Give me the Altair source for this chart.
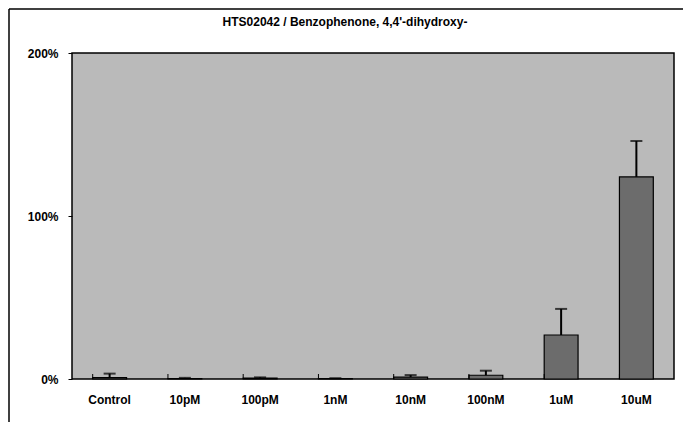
import altair as alt
import pandas as pd

categories = ["Control", "10pM", "100pM", "1nM", "10nM", "100nM", "1uM", "10uM"]
means = [0.8, 0.3, 0.5, 0.2, 1.2, 2.3, 27.0, 124.0]
errors = [2.5, 0.4, 0.5, 0.3, 1.2, 2.8, 16.0, 22.0]
y_ticks = [0, 100, 200]
title_text = ["HTS02042 / Benzophenone, 4,4'-dihydroxy-"]

df = pd.DataFrame({"cat": categories, "mean": means, "err": errors})
df["top"] = df["mean"] + df["err"]

FONT = "Liberation Sans"
W, H = 602, 326

x_enc = alt.X("cat:N", sort=categories, title=None,
              scale=alt.Scale(paddingInner=0.55, paddingOuter=0.275),
              axis=alt.Axis(labelAngle=0, labelFont=FONT, labelFontSize=12,
                            labelFontWeight="bold", labelColor="black",
                            labelPadding=15, ticks=False, domain=False))
y_scale = alt.Scale(domain=[0, 200], nice=False)
y_axis = alt.Axis(values=y_ticks, labelExpr="datum.value + '%'", labelFont=FONT,
                  labelFontSize=12, labelFontWeight="bold", labelColor="black",
                  tickSize=4, tickColor="black", labelPadding=10, grid=False,
                  domain=False, title=None)

base = alt.Chart(df)

bars = base.mark_bar(color="#6c6c6c", stroke="black", strokeWidth=1.2).encode(
    x=x_enc,
    y=alt.Y("mean:Q", scale=y_scale, axis=y_axis),
)
err_line = base.mark_rule(color="black", strokeWidth=2).encode(
    x=alt.X("cat:N", sort=categories),
    y="mean:Q",
    y2="top:Q",
)
caps = base.mark_tick(color="black", size=12, thickness=2).encode(
    x=alt.X("cat:N", sort=categories),
    y="top:Q",
)
sep_ticks = base.mark_rule(color="black", strokeWidth=1).encode(
    x=alt.X("cat:N", sort=categories, bandPosition=0),
    y=alt.value(H),
    y2=alt.value(H - 5),
)
one = pd.DataFrame({"t": title_text})
frame_left = alt.Chart(one).mark_rule(color="black", strokeWidth=1.5).encode(
    x=alt.value(-63), y=alt.value(-44), y2=alt.value(369)
)
frame_top = alt.Chart(one).mark_rule(color="black", strokeWidth=1.5).encode(
    x=alt.value(-63), x2=alt.value(611), y=alt.value(-44)
)
title = alt.Chart(one).mark_text(font=FONT, fontSize=12, fontWeight="bold",
                                 color="black", align="center", baseline="middle").encode(
    x=alt.value(273), y=alt.value(-31), text="t:N"
)

chart = alt.layer(frame_left, frame_top, title, bars, err_line, caps, sep_ticks).properties(
    width=W, height=H,
    autosize=alt.AutoSizeParams(type="none"),
    padding={"left": 64, "top": 45, "right": 9, "bottom": 43},
    background="white",
).configure_view(fill="#bababa", stroke="black", strokeWidth=1.5)

chart.save("out.html", embed_options={"renderer": "svg", "actions": False})
